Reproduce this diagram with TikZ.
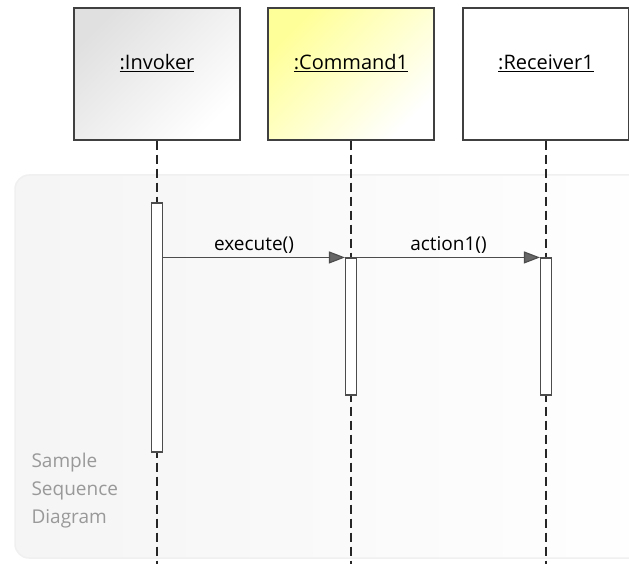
\documentclass[tikz,border=0pt]{standalone}
\usepackage{fontspec}
\setmainfont{Open Sans}
\usetikzlibrary{arrows.meta}

\begin{document}
\begin{tikzpicture}
    [x=1pt, y=-1pt,
     object/.style={draw=black!75, line width=1.2pt, minimum width=166pt,
       minimum height=132pt, text depth=24pt, font=\fontsize{20}{24}\selectfont},
     lifeline/.style={draw=black!85, line width=1.1pt, dash pattern=on 9pt off 5pt},
     activation/.style={draw=black!70, fill=white, line width=1.1pt,
       minimum width=11pt, inner sep=0pt},
     message/.style={draw=black!70, line width=1.1pt,
       -{Triangle[length=16pt, width=12pt, fill=black!60]}},
     note/.style={text=black!40, font=\fontsize{19}{28}\selectfont, align=left}]
    \useasboundingbox (0, 0) rectangle (629, 564);
    % frame in the background
    \draw[black!6, left color=black!4, right color=white, line width=1.5pt,
      rounded corners=14pt] (15, 175) rectangle (660, 558);
    % objects
    \node[object, left color=black!12, right color=white, shading angle=45]
      (invoker) at (157, 74) {\underline{:Invoker}};
    \node[object, left color=yellow!40, right color=white, shading angle=45]
      (command) at (351, 74) {\underline{:Command1}};
    \node[object, fill=white] (receiver) at (546, 74) {\underline{:Receiver1}};
    \coordinate (bottom) at (0, 566);
    \draw[lifeline] (invoker.south) -- (invoker.south |- bottom);
    \draw[lifeline] (command.south) -- (command.south |- bottom);
    \draw[lifeline] (receiver.south) -- (receiver.south |- bottom);
    % activations
    \node[activation, minimum height=249pt] (invact) at (157, 327.5) {};
    \node[activation, minimum height=137pt] (cmdact) at (351, 326.5) {};
    \node[activation, minimum height=137pt] (rcvact) at (546, 326.5) {};
    % messages
    \draw[message] (invact.east |- cmdact.north) -- (cmdact.north west)
      node[midway, above=0pt, font=\fontsize{19}{22}\selectfont] {execute()};
    \draw[message] (cmdact.north east) -- (rcvact.north west)
      node[midway, above=0pt, font=\fontsize{19}{22}\selectfont] {action1()};
    \node[note, anchor=north west] (caption) at (28, 450)
      {Sample\\Sequence\\Diagram};
  \end{tikzpicture}
\end{document}
